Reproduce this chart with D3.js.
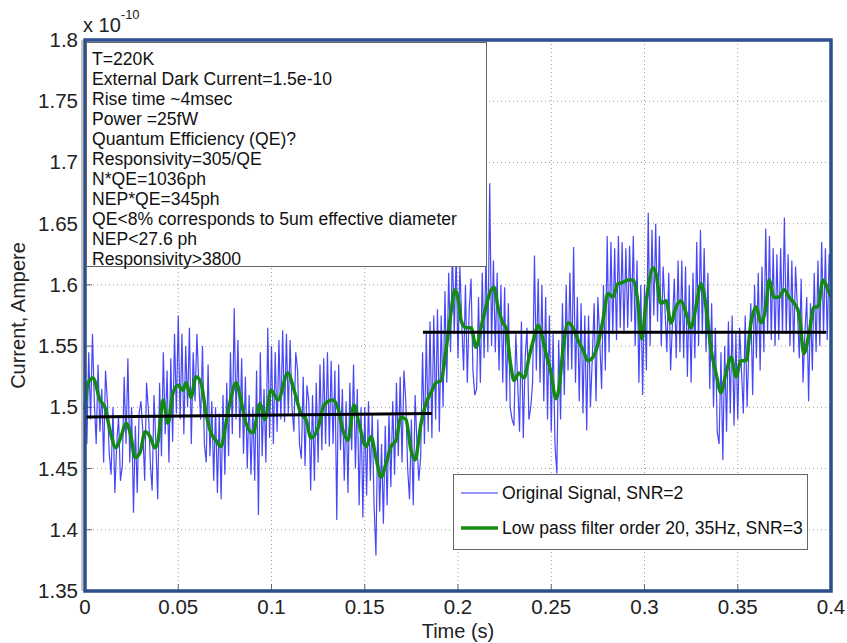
<!DOCTYPE html>
<html>
<head>
<meta charset="utf-8">
<script src="https://cdn.jsdelivr.net/npm/d3@7"></script>
<style>
  body { margin: 0; background: #fff; }
  text { font-family: Arial, "Liberation Sans", sans-serif; }
</style>
</head>
<body>
<div id="viz"></div>
<script>
// tick labels
let xTicks = [0, 0.05, 0.1, 0.15, 0.2, 0.25, 0.3, 0.35, 0.4]
let yTicks = [1.35, 1.4, 1.45, 1.5, 1.55, 1.6, 1.65, 1.7, 1.75, 1.8]

// original signal, one sample per ms (x 1e-10 A)
let signalStep = 0.001
let signal = [
  1.525, 1.470, 1.545, 1.490, 1.560, 1.505, 1.470, 1.535, 1.480, 1.515,
  1.455, 1.530, 1.505, 1.462, 1.445, 1.500, 1.430, 1.470, 1.492, 1.440,
  1.452, 1.525, 1.470, 1.540, 1.455, 1.500, 1.414, 1.485, 1.430, 1.495,
  1.505, 1.480, 1.440, 1.520, 1.498, 1.455, 1.432, 1.510, 1.470, 1.425,
  1.520, 1.460, 1.545, 1.478, 1.530, 1.455, 1.540, 1.472, 1.560, 1.495,
  1.575, 1.490, 1.560, 1.478, 1.550, 1.500, 1.565, 1.470, 1.545, 1.505,
  1.560, 1.520, 1.490, 1.550, 1.470, 1.455, 1.535, 1.460, 1.505, 1.440,
  1.500, 1.430, 1.495, 1.425, 1.510, 1.445, 1.520, 1.460, 1.545, 1.478,
  1.581, 1.490, 1.555, 1.475, 1.540, 1.462, 1.525, 1.450, 1.510, 1.445,
  1.500, 1.440, 1.530, 1.412, 1.545, 1.460, 1.515, 1.455, 1.565, 1.475,
  1.550, 1.470, 1.545, 1.480, 1.555, 1.490, 1.563, 1.488, 1.560, 1.495,
  1.555, 1.500, 1.480, 1.545, 1.530, 1.470, 1.458, 1.525, 1.452, 1.518,
  1.505, 1.432, 1.510, 1.440, 1.520, 1.455, 1.535, 1.465, 1.540, 1.470,
  1.545, 1.468, 1.538, 1.470, 1.530, 1.408, 1.535, 1.465, 1.515, 1.440,
  1.505, 1.430, 1.520, 1.465, 1.535, 1.450, 1.515, 1.420, 1.500, 1.410,
  1.500, 1.428, 1.505, 1.440, 1.495, 1.420, 1.379, 1.490, 1.415, 1.470,
  1.405, 1.485, 1.420, 1.495, 1.435, 1.505, 1.445, 1.520, 1.460, 1.525,
  1.455, 1.530, 1.505, 1.450, 1.425, 1.490, 1.420, 1.510, 1.470, 1.440,
  1.460, 1.545, 1.470, 1.560, 1.480, 1.570, 1.475, 1.575, 1.490, 1.580,
  1.480, 1.575, 1.500, 1.595, 1.520, 1.610, 1.545, 1.630, 1.560, 1.625,
  1.540, 1.615, 1.570, 1.530, 1.600, 1.520, 1.580, 1.605, 1.530, 1.510,
  1.515, 1.590, 1.520, 1.610, 1.540, 1.625, 1.545, 1.683, 1.550, 1.620,
  1.545, 1.610, 1.530, 1.600, 1.520, 1.598, 1.505, 1.585, 1.500, 1.490,
  1.485, 1.560, 1.520, 1.480, 1.570, 1.475, 1.540, 1.565, 1.490, 1.500,
  1.520, 1.624, 1.530, 1.605, 1.520, 1.600, 1.505, 1.590, 1.490, 1.575,
  1.480, 1.560, 1.470, 1.446, 1.555, 1.490, 1.585, 1.510, 1.600, 1.530,
  1.610, 1.531, 1.631, 1.520, 1.590, 1.505, 1.585, 1.495, 1.575, 1.481,
  1.575, 1.500, 1.540, 1.585, 1.505, 1.590, 1.555, 1.515, 1.600, 1.530,
  1.640, 1.545, 1.635, 1.560, 1.630, 1.555, 1.640, 1.565, 1.635, 1.560,
  1.630, 1.565, 1.632, 1.570, 1.640, 1.550, 1.620, 1.520, 1.600, 1.510,
  1.600, 1.530, 1.659, 1.550, 1.645, 1.575, 1.650, 1.570, 1.640, 1.550,
  1.615, 1.580, 1.545, 1.610, 1.530, 1.570, 1.605, 1.540, 1.620, 1.545,
  1.620, 1.540, 1.615, 1.525, 1.600, 1.520, 1.610, 1.540, 1.635, 1.550,
  1.645, 1.560, 1.630, 1.545, 1.610, 1.515, 1.585, 1.500, 1.565, 1.480,
  1.470, 1.545, 1.457, 1.550, 1.480, 1.570, 1.495, 1.575, 1.485, 1.560,
  1.490, 1.565, 1.530, 1.495, 1.575, 1.500, 1.550, 1.585, 1.510, 1.600,
  1.540, 1.610, 1.530, 1.615, 1.545, 1.646, 1.560, 1.640, 1.555, 1.630,
  1.550, 1.625, 1.555, 1.630, 1.560, 1.655, 1.560, 1.625, 1.550, 1.620,
  1.545, 1.615, 1.580, 1.540, 1.605, 1.520, 1.560, 1.590, 1.505, 1.585,
  1.530, 1.610, 1.545, 1.620, 1.550, 1.635, 1.560, 1.630, 1.555, 1.625,
  1.590
]

// low pass filtered signal
let filtT = [0, 0.0016, 0.0043, 0.0080, 0.0107, 0.0134, 0.0166, 0.0193, 0.0220, 0.0247,
  0.0268, 0.0295, 0.0322, 0.0349, 0.0375, 0.0391, 0.0418, 0.0445, 0.0472, 0.0499,
  0.0525, 0.0542, 0.0568, 0.0595, 0.0622, 0.0649, 0.0676, 0.0702, 0.0729, 0.0756,
  0.0783, 0.0810, 0.0836, 0.0863, 0.0901, 0.0938, 0.0965, 0.0997, 0.1035, 0.1088,
  0.1121, 0.1158, 0.1185, 0.1212, 0.1249, 0.1282, 0.1330, 0.1357, 0.1383, 0.1410,
  0.1442, 0.1469, 0.1507, 0.1534, 0.1560, 0.1587, 0.1614, 0.1641, 0.1668, 0.1694,
  0.1721, 0.1748, 0.1769, 0.1802, 0.1828, 0.1855, 0.1882, 0.1909, 0.1936, 0.1962,
  0.1984, 0.2005, 0.2016, 0.2043, 0.2070, 0.2097, 0.2123, 0.2150, 0.2177, 0.2193,
  0.2214, 0.2241, 0.2257, 0.2284, 0.2300, 0.2327, 0.2354, 0.2381, 0.2408, 0.2429,
  0.2456, 0.2472, 0.2499, 0.2525, 0.2542, 0.2563, 0.2590, 0.2617, 0.2643, 0.2670,
  0.2697, 0.2724, 0.2751, 0.2777, 0.2804, 0.2831, 0.2858, 0.2885, 0.2912, 0.2938,
  0.2965, 0.2985, 0.3008, 0.3046, 0.3062, 0.3088, 0.3115, 0.3142, 0.3169, 0.3196,
  0.3223, 0.3249, 0.3276, 0.3303, 0.3330, 0.3357, 0.3383, 0.3410, 0.3437, 0.3464,
  0.3491, 0.3517, 0.3544, 0.3571, 0.3598, 0.3625, 0.3651, 0.3668, 0.3694, 0.3721,
  0.3748, 0.3775, 0.3802, 0.3828, 0.3855, 0.3882, 0.3909, 0.3930, 0.3957, 0.3984,
  0.4000]
let filtV = [1.498, 1.520, 1.524, 1.506, 1.500, 1.481, 1.467, 1.476, 1.487, 1.476,
  1.459, 1.463, 1.480, 1.476, 1.467, 1.472, 1.506, 1.487, 1.512, 1.518,
  1.514, 1.520, 1.508, 1.525, 1.520, 1.495, 1.479, 1.473, 1.468, 1.487,
  1.508, 1.520, 1.506, 1.487, 1.479, 1.503, 1.490, 1.514, 1.506, 1.528,
  1.514, 1.495, 1.490, 1.475, 1.483, 1.502, 1.506, 1.499, 1.481, 1.473,
  1.502, 1.487, 1.468, 1.476, 1.459, 1.443, 1.454, 1.468, 1.473, 1.492,
  1.490, 1.465, 1.457, 1.487, 1.503, 1.512, 1.520, 1.522, 1.547, 1.577,
  1.596, 1.585, 1.571, 1.565, 1.565, 1.549, 1.565, 1.582, 1.596, 1.598,
  1.582, 1.569, 1.565, 1.533, 1.522, 1.528, 1.524, 1.541, 1.557, 1.567,
  1.555, 1.544, 1.528, 1.507, 1.516, 1.547, 1.569, 1.565, 1.555, 1.547,
  1.538, 1.541, 1.552, 1.571, 1.593, 1.590, 1.601, 1.602, 1.604, 1.604,
  1.585, 1.556, 1.585, 1.614, 1.609, 1.585, 1.587, 1.569, 1.582, 1.587,
  1.577, 1.565, 1.582, 1.601, 1.582, 1.547, 1.528, 1.512, 1.528, 1.541,
  1.525, 1.538, 1.538, 1.569, 1.582, 1.569, 1.582, 1.604, 1.590, 1.590,
  1.596, 1.590, 1.585, 1.577, 1.544, 1.560, 1.582, 1.582, 1.604, 1.596,
  1.590]

// straight fits before and after the step
let fitLevels = [
  { t0: 0, t1: 0.186, v0: 1.4922, v1: 1.4950 },
  { t0: 0.1812, t1: 0.3975, v0: 1.5613, v1: 1.5613 }
]

let notes = [
  "T=220K",
  "External Dark Current=1.5e-10",
  "Rise time ~4msec",
  "Power =25fW",
  "Quantum Efficiency (QE)?",
  "Responsivity=305/QE",
  "N*QE=1036ph",
  "NEP*QE=345ph",
  "QE<8% corresponds to 5um effective diameter",
  "NEP<27.6 ph",
  "Responsivity>3800"
]
let legendNames = ["Original Signal, SNR=2", "Low pass filter order 20, 35Hz, SNR=3"]

let svgWidth = 847
let svgHeight = 643
let margin = { left: 85, right: 16, top: 40, bottom: 52 }

const svg = d3.select('#viz')
  .append('svg')
  .attr('width', svgWidth)
  .attr('height', svgHeight)

let xScale = d3.scaleLinear()
  .domain([0, 0.4])
  .range([margin.left, svgWidth - margin.right])
let yScale = d3.scaleLinear()
  .domain([1.35, 1.8])
  .range([svgHeight - margin.bottom, margin.top])

// grid
let grid = svg.append('g')
grid.selectAll('.vgrid')
  .data(xTicks.slice(1, -1))
  .join('line')
  .attr('class', 'vgrid')
  .attr('x1', d => xScale(d)).attr('x2', d => xScale(d))
  .attr('y1', yScale(1.8)).attr('y2', yScale(1.35))
  .attr('stroke', '#9a9a9a')
  .attr('stroke-dasharray', '1,3')
grid.selectAll('.hgrid')
  .data(yTicks.slice(1, -1))
  .join('line')
  .attr('class', 'hgrid')
  .attr('y1', d => yScale(d)).attr('y2', d => yScale(d))
  .attr('x1', xScale(0)).attr('x2', xScale(0.4))
  .attr('stroke', '#9a9a9a')
  .attr('stroke-dasharray', '1,3')

// inward tick marks
grid.selectAll('.xtick')
  .data(xTicks)
  .join('line')
  .attr('class', 'xtick')
  .attr('x1', d => xScale(d)).attr('x2', d => xScale(d))
  .attr('y1', yScale(1.35)).attr('y2', yScale(1.35) - 7)
  .attr('stroke', '#666')
grid.selectAll('.ytick')
  .data(yTicks)
  .join('line')
  .attr('class', 'ytick')
  .attr('y1', d => yScale(d)).attr('y2', d => yScale(d))
  .attr('x1', xScale(0)).attr('x2', xScale(0) + 7)
  .attr('stroke', '#666')

// data lines
let signalLine = d3.line()
  .x((d, i) => xScale(i * signalStep))
  .y(d => yScale(d))
svg.append('path')
  .datum(signal)
  .attr('fill', 'none')
  .attr('stroke', '#1f1ff5')
  .attr('stroke-opacity', 0.82)
  .attr('stroke-width', 1.2)
  .attr('d', signalLine)

let filtLine = d3.line()
  .x(d => xScale(d[0]))
  .y(d => yScale(d[1]))
  .curve(d3.curveMonotoneX)
svg.append('path')
  .datum(d3.zip(filtT, filtV))
  .attr('fill', 'none')
  .attr('stroke', '#138a13')
  .attr('stroke-width', 3.5)
  .attr('stroke-linejoin', 'round')
  .attr('d', filtLine)

svg.append('g')
  .selectAll('line')
  .data(fitLevels)
  .join('line')
  .attr('x1', d => xScale(d.t0)).attr('x2', d => xScale(d.t1))
  .attr('y1', d => yScale(d.v0)).attr('y2', d => yScale(d.v1))
  .attr('stroke', '#000')
  .attr('stroke-width', 3)

// axes frame
svg.append('line')
  .attr('x1', xScale(0) - 3).attr('x2', xScale(0) - 3)
  .attr('y1', yScale(1.8)).attr('y2', yScale(1.35))
  .attr('stroke', '#888')
svg.append('rect')
  .attr('x', xScale(0))
  .attr('y', yScale(1.8))
  .attr('width', xScale(0.4) - xScale(0))
  .attr('height', yScale(1.35) - yScale(1.8))
  .attr('fill', 'none')
  .attr('stroke', '#2c4f8c')
  .attr('stroke-width', 3.5)

// tick labels
svg.append('g')
  .selectAll('text')
  .data(xTicks)
  .join('text')
  .attr('x', d => xScale(d))
  .attr('y', yScale(1.35) + 23)
  .attr('text-anchor', 'middle')
  .attr('font-size', 20.5)
  .attr('fill', '#222')
  .text(d => d)
svg.append('g')
  .selectAll('text')
  .data(yTicks)
  .join('text')
  .attr('x', xScale(0) - 7)
  .attr('y', d => yScale(d) + 7)
  .attr('text-anchor', 'end')
  .attr('font-size', 20.5)
  .attr('fill', '#222')
  .text(d => d)

// exponent
let expo = svg.append('text')
  .attr('x', xScale(0) - 2)
  .attr('y', 32)
  .attr('font-size', 20)
  .attr('fill', '#222')
expo.append('tspan').text('x 10')
expo.append('tspan')
  .attr('dy', -13)
  .attr('font-size', 13)
  .text('-10')

// axis titles
svg.append('text')
  .attr('x', (xScale(0) + xScale(0.4)) / 2)
  .attr('y', 638)
  .attr('text-anchor', 'middle')
  .attr('font-size', 20)
  .attr('fill', '#222')
  .text('Time (s)')
svg.append('text')
  .attr('transform', 'translate(25,' + ((yScale(1.35) + yScale(1.8)) / 2) + ') rotate(-90)')
  .attr('text-anchor', 'middle')
  .attr('font-size', 20)
  .attr('fill', '#222')
  .text('Current, Ampere')

// notes box
svg.append('rect')
  .attr('x', 86.5).attr('y', 42.5)
  .attr('width', 400).attr('height', 224)
  .attr('fill', '#fff')
  .attr('stroke', '#666')
svg.append('g')
  .selectAll('text')
  .data(notes)
  .join('text')
  .attr('x', 92)
  .attr('y', (d, i) => 65 + i * 20)
  .attr('font-size', 17.6)
  .attr('fill', '#111')
  .text(d => d)

// legend
let legend = svg.append('g')
legend.append('rect')
  .attr('x', 453.5).attr('y', 474.5)
  .attr('width', 354).attr('height', 75)
  .attr('fill', '#fff')
  .attr('stroke', '#666')
legend.selectAll('line')
  .data(legendNames)
  .join('line')
  .attr('x1', 461).attr('x2', 498)
  .attr('y1', (d, i) => 493 + i * 35)
  .attr('y2', (d, i) => 493 + i * 35)
  .attr('stroke', (d, i) => i == 0 ? '#2a2af5' : '#138a13')
  .attr('stroke-width', (d, i) => i == 0 ? 1 : 3.5)
legend.selectAll('text')
  .data(legendNames)
  .join('text')
  .attr('x', 502)
  .attr('y', (d, i) => 499 + i * 35)
  .attr('font-size', 17.6)
  .attr('fill', '#111')
  .text(d => d)
</script>
</body>
</html>
